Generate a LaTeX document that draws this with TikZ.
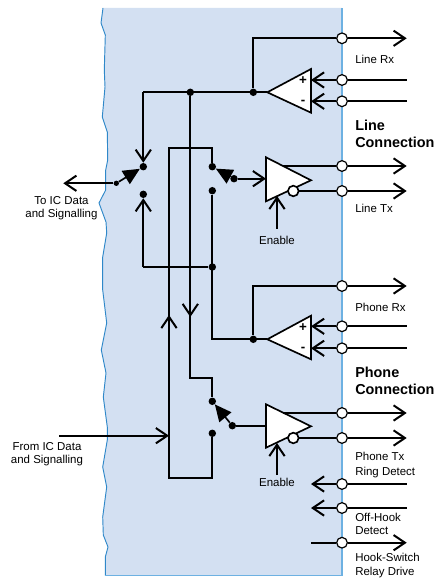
\documentclass[tikz,border=0pt]{standalone}
\usepackage{fontspec}
\setmainfont{Liberation Sans}
\usetikzlibrary{arrows.meta}
\definecolor{panelfill}{HTML}{D3E0F2}
\definecolor{edgeleft}{HTML}{2F88C9}
\definecolor{edgeright}{HTML}{6DB1E2}
\tikzset{
  wire/.style={line width=1.25pt, line join=miter},
  barb/.style={-{Straight Barb[length=8.5pt,width=11.5pt,line width=1.5pt]}},
  arm/.style={-{Triangle[length=12.5pt,width=11.5pt]}},
  pin/.style={circle, draw, fill=white, line width=0.9pt, inner sep=0pt, minimum size=8pt},
  bubble/.style={circle, draw, fill=white, line width=1.25pt, inner sep=0pt, minimum size=8pt},
  dot/.style={circle, fill=black, inner sep=0pt, minimum size=5.6pt},
  smalldot/.style={circle, fill=black, inner sep=0pt, minimum size=4pt},
  amp/.style={draw, fill=white, line width=1.25pt, line join=miter},
  sign/.style={inner sep=0pt, font=\fontsize{10pt}{10pt}\selectfont\bfseries},
  lbl/.style={font=\fontsize{8.6pt}{9.8pt}\selectfont, inner sep=0pt},
  headlbl/.style={font=\fontsize{10.8pt}{12pt}\selectfont\bfseries, inner sep=0pt, anchor=west}
}
\begin{document}
\begin{tikzpicture}[x=0.75pt, y=-0.75pt]
\useasboundingbox (0,0) rectangle (435,580);

% Panel
\fill[panelfill] (103,8) -- (101,23) -- (105.3,35) -- (104.3,70) -- (105,87) -- (102.3,117) -- (107.3,132)
  -- (107.7,160) -- (105.7,170) -- (105.7,190) -- (99,203) -- (106,222) -- (106.7,233) -- (102.7,257)
  -- (102.7,290) -- (106.7,323) -- (101.3,350) -- (106,373) -- (103.3,397) -- (107.3,427) -- (107.3,440)
  -- (102.7,467) -- (106.7,487) -- (102.7,517) -- (103.3,535) -- (108,547) -- (105.3,557) -- (105.3,575.7)
  -- (342,575.7) -- (342,8) -- cycle;
\draw[edgeleft, line width=0.7pt] (103,8) -- (101,23) -- (105.3,35) -- (104.3,70) -- (105,87) -- (102.3,117) -- (107.3,132)
  -- (107.7,160) -- (105.7,170) -- (105.7,190) -- (99,203) -- (106,222) -- (106.7,233) -- (102.7,257)
  -- (102.7,290) -- (106.7,323) -- (101.3,350) -- (106,373) -- (103.3,397) -- (107.3,427) -- (107.3,440)
  -- (102.7,467) -- (106.7,487) -- (102.7,517) -- (103.3,535) -- (108,547) -- (105.3,557) -- (105.3,575.7);
\draw[edgeright, line width=1.1pt] (105.3,575.7) -- (342,575.7) -- (342,8);

% Switch contacts and junctions
\node[dot] (swAup) at (143.3,166.7) {};
\node[dot] (swAdown) at (143.3,194.3) {};
\node[smalldot] (swAarm) at (116.3,183.3) {};
\node[dot] (swBup) at (212.3,166.7) {};
\node[dot] (swBdown) at (212.3,190.7) {};
\node[dot] (swBarm) at (234,178.7) {};
\node[dot] (swCup) at (212.3,401.3) {};
\node[dot] (swCdown) at (212.3,433.3) {};
\node[dot] (swCarm) at (232.3,425.7) {};
\node[dot] (topJ) at (190.3,92.3) {};
\node[dot] (lineJ) at (253.3,92.3) {};
\node[dot] (midJ) at (212.3,267) {};
\node[dot] (phoneJ) at (253.3,339.3) {};

% Free ends and corners
\coordinate (topL) at (143.3,92.3);
\coordinate (lineTip) at (267.3,92.3);
\coordinate (phoneTip) at (267.3,339.3);
\coordinate (toIC) at (63.3,183.3);
\coordinate (fromIC) at (59.3,435.7);
\coordinate (loopJ) at (169,435.7);
\coordinate (loopTL) at (169,148);
\coordinate (loopTR) at (212.3,148);
\coordinate (loopBL) at (169,478);
\coordinate (loopBR) at (212.3,478);
\coordinate (loopMark) at (169,315);
\coordinate (downMark) at (190.3,317);
\coordinate (downEnd) at (190.3,378.3);
\coordinate (downR) at (212.3,378.3);
\coordinate (backL) at (143.3,267);
\coordinate (midEnd) at (212.3,339.3);

% Pins on the edge
\foreach \name/\ypos in {pLineRx/38.3, pLineP/80, pLineM/101.3, pLineTxA/166, pLineTxB/191,
    pPhoneRx/286, pPhoneP/326.3, pPhoneM/348.3, pPhoneTxA/413, pPhoneTxB/438,
    pRing/484, pHook/508, pRelay/542.7}
  \node[pin] (\name) at (342,\ypos) {};

% Switches and routing
\draw[wire] (topL) -- (lineTip);
\draw[wire, barb] (topL) -- (swAup);
\draw[wire, barb] (backL) -- (swAdown);
\draw[wire] (backL) -- (midJ);
\draw[wire, barb] (swAarm) -- (toIC);
\draw[wire, arm] (swAarm) -- (swAup);
\draw[wire] (swBup) -- (loopTR) -- (loopTL) -- (loopBL) -- (loopBR) -- (swCdown);
\draw[wire, barb] (loopBL) -- (loopMark);
\draw[wire, barb] (fromIC) -- (loopJ);
\draw[wire] (topJ) -- (downEnd) -- (downR) -- (swCup);
\draw[wire, barb] (topJ) -- (downMark);
\draw[wire] (swBdown) -- (midEnd) -- (phoneTip);
\draw[wire, arm] (swBarm) -- (swBup);
\draw[wire, arm] (swCarm) -- (swCup);

% Line receive
\draw[wire] (lineJ) |- (pLineRx);
\draw[wire] (phoneJ) |- (pPhoneRx);
\coordinate (aLineP) at (311,80);
\coordinate (aLineM) at (311,101.3);
\coordinate (aPhoneP) at (311,326.3);
\coordinate (aPhoneM) at (311,348.3);
\draw[amp] (lineTip) -- (311,69) -- (311,112.7) -- cycle;
\draw[amp] (phoneTip) -- (311,315.7) -- (311,359.3) -- cycle;
\node[sign] (plusA) at (303,81) {+};
\node[sign] (minusA) at (303,102) {-};
\node[sign] (plusB) at (303,328) {+};
\node[sign] (minusB) at (303,349) {-};
\draw[wire, barb] (pLineP) -- (aLineP);
\draw[wire, barb] (pLineM) -- (aLineM);
\draw[wire, barb] (pPhoneP) -- (aPhoneP);
\draw[wire, barb] (pPhoneM) -- (aPhoneM);

% Transmit buffers
\coordinate (bLineIn) at (266,178.7);
\coordinate (bPhoneIn) at (266,425.7);
\coordinate (bLineA) at (283,166);
\coordinate (bPhoneA) at (283,413);
\coordinate (enLine) at (277,228.7);
\coordinate (enLineTip) at (277,196);
\coordinate (enPhone) at (277,475);
\coordinate (enPhoneTip) at (277,443);
\draw[wire, barb] (swBarm) -- (bLineIn);
\draw[wire] (swCarm) -- (bPhoneIn);
\draw[amp] (266,157.3) -- (311,180.3) -- (266,201.3) -- cycle;
\draw[amp] (266,404.3) -- (311,426.3) -- (266,447.7) -- cycle;
\node[bubble] (bubLine) at (293.3,191) {};
\node[bubble] (bubPhone) at (293.3,438) {};
\draw[wire] (bLineA) -- (pLineTxA);
\draw[wire] (bubLine) -- (pLineTxB);
\draw[wire] (bPhoneA) -- (pPhoneTxA);
\draw[wire] (bubPhone) -- (pPhoneTxB);
\draw[wire, barb] (enLine) -- (enLineTip);
\draw[wire, barb] (enPhone) -- (enPhoneTip);

% Right hand side
\coordinate (eLineRx) at (406.7,38.3);
\coordinate (eLineP) at (406.7,80);
\coordinate (eLineM) at (406.7,101.3);
\coordinate (eLineTxA) at (406.7,166);
\coordinate (eLineTxB) at (406.7,191);
\coordinate (ePhoneRx) at (406.7,286);
\coordinate (ePhoneP) at (406.7,326.3);
\coordinate (ePhoneM) at (406.7,348.3);
\coordinate (ePhoneTxA) at (406.7,413);
\coordinate (ePhoneTxB) at (406.7,438);
\coordinate (eRing) at (406.7,484);
\coordinate (eHook) at (406.7,508);
\coordinate (eRelay) at (406.7,542.7);
\coordinate (iRing) at (311,484);
\coordinate (iHook) at (311,508);
\coordinate (iRelay) at (311,542.7);
\draw[wire, barb] (pLineRx) -- (eLineRx);
\draw[wire] (pLineP) -- (eLineP);
\draw[wire] (pLineM) -- (eLineM);
\draw[wire, barb] (pLineTxA) -- (eLineTxA);
\draw[wire, barb] (pLineTxB) -- (eLineTxB);
\draw[wire, barb] (pPhoneRx) -- (ePhoneRx);
\draw[wire] (pPhoneP) -- (ePhoneP);
\draw[wire] (pPhoneM) -- (ePhoneM);
\draw[wire, barb] (pPhoneTxA) -- (ePhoneTxA);
\draw[wire, barb] (pPhoneTxB) -- (ePhoneTxB);
\draw[wire] (eRing) -- (pRing);
\draw[wire, barb] (pRing) -- (iRing);
\draw[wire] (eHook) -- (pHook);
\draw[wire, barb] (pHook) -- (iHook);
\draw[wire] (iRelay) -- (pRelay);
\draw[wire, barb] (pRelay) -- (eRelay);

% Labels
\node[lbl, align=center] (toLabel) at (61.5,208.5) {To IC Data\\and Signalling};
\node[lbl, align=center] (fromLabel) at (47,454.5) {From IC Data\\and Signalling};
\node[lbl] (enLabelA) at (277,240.5) {Enable};
\node[lbl] (enLabelB) at (277,482.7) {Enable};
\node[lbl, anchor=west] (lineRxLabel) at (355,59) {Line Rx};
\node[lbl, anchor=west] (lineTxLabel) at (355,208.7) {Line Tx};
\node[lbl, anchor=west] (phoneRxLabel) at (355,307.3) {Phone Rx};
\node[lbl, anchor=west] (phoneTxLabel) at (355,456) {Phone Tx};
\node[lbl, anchor=west] (ringLabel) at (355,472.7) {Ring Detect};
\node[lbl, anchor=west, align=left] (hookLabel) at (355,524.2) {Off-Hook\\Detect};
\node[lbl, anchor=west, align=left] (relayLabel) at (355,565.5) {Hook-Switch\\Relay Drive};
\node[headlbl] (lineA) at (355,125) {Line};
\node[headlbl] (lineB) at (355,142) {Connection};
\node[headlbl] (phoneA) at (355,372.7) {Phone};
\node[headlbl] (phoneB) at (355,389.3) {Connection};
\end{tikzpicture}
\end{document}
